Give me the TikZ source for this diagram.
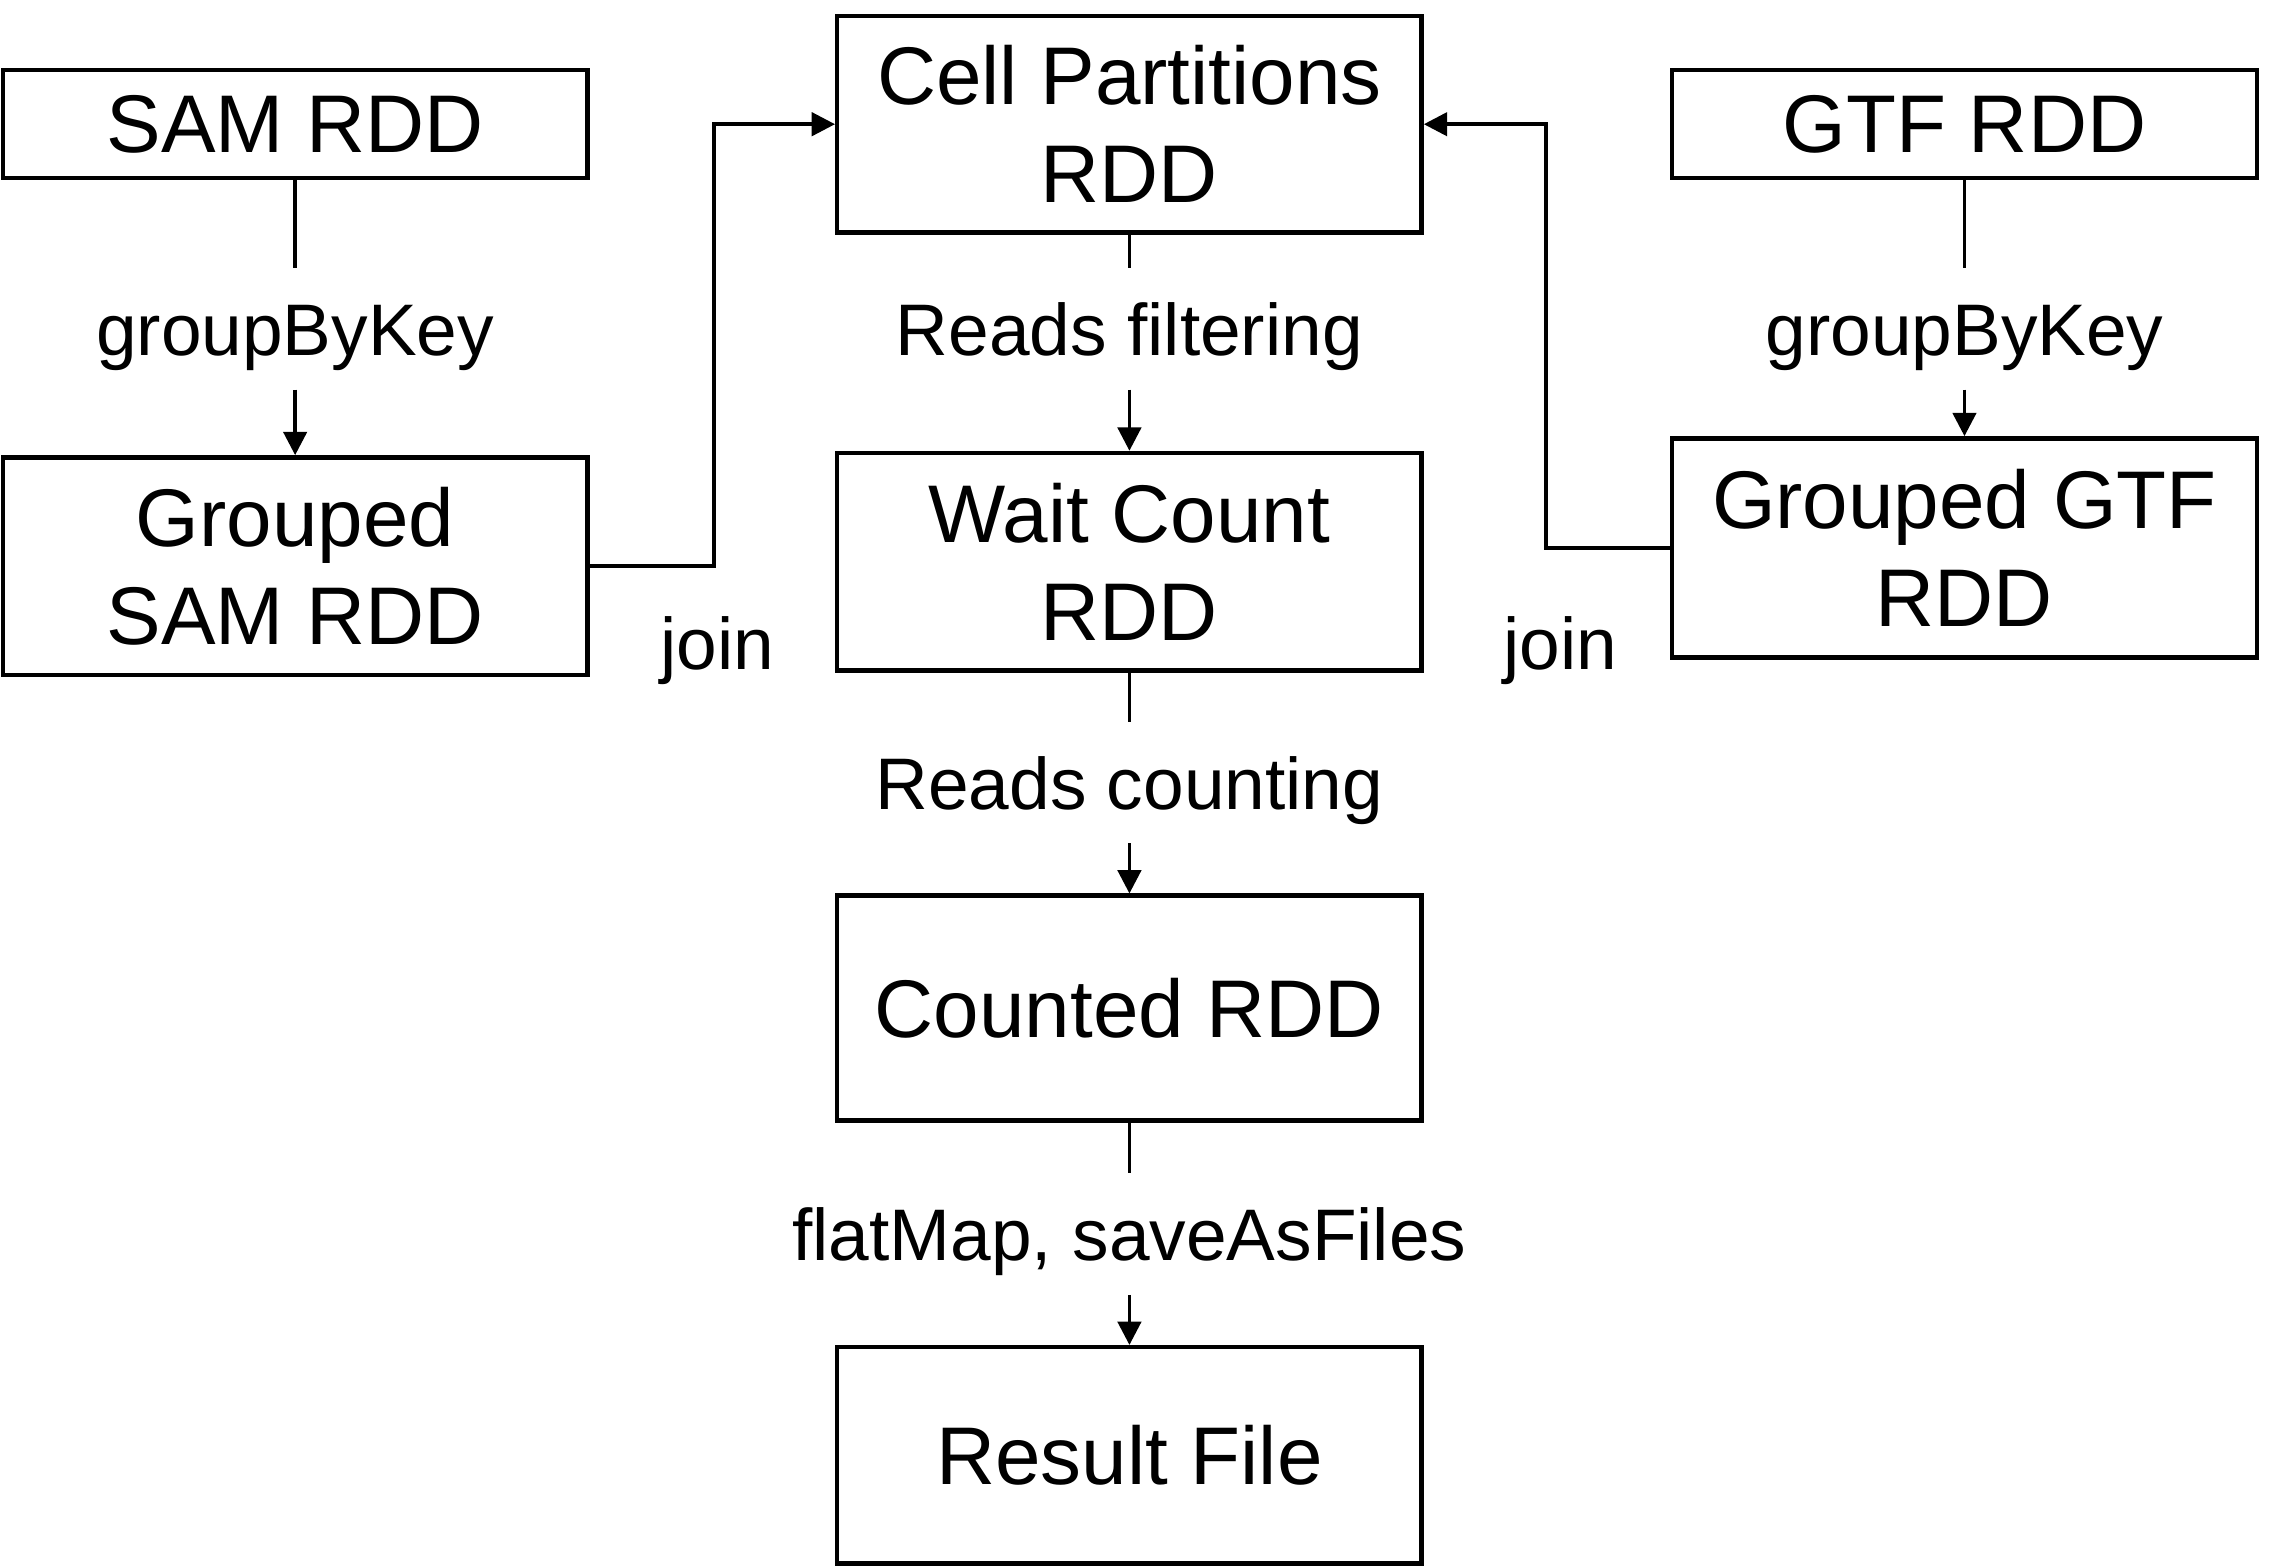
\documentclass[tikz,border=0pt]{standalone}
\usepackage{fontspec}
\setmainfont{Liberation Sans}
\usetikzlibrary{arrows.meta}

\begin{document}
\begin{tikzpicture}[x=1pt,y=-1pt,
		rdd/.style={draw,line width=3pt,minimum width=400pt,inner sep=0pt,
			align=center,font=\fontsize{56}{67}\selectfont},
		op/.style={inner xsep=0pt,inner ysep=18pt,text height=42pt,text depth=5pt,
			font=\fontsize{50}{60}\selectfont},
		link/.style={line width=2.5pt},
		flow/.style={link,-{Triangle[length=16pt,width=16pt]}}]
	\useasboundingbox (0,0) rectangle (1568,1072);
	\node[rdd,minimum height=74pt] (sam) at (202,85) {SAM RDD};
	\node[rdd,minimum height=149pt] (gsam) at (202,387.5) {Grouped\\SAM RDD};
	\node[rdd,minimum height=148pt] (cell) at (773,85) {Cell Partitions\\RDD};
	\node[rdd,minimum height=149pt] (wait) at (773,384.5) {Wait Count\\RDD};
	\node[rdd,minimum height=154pt] (counted) at (773,690) {Counted RDD};
	\node[rdd,minimum height=148pt] (result) at (773,996) {Result File};
	\node[rdd,minimum height=74pt] (gtf) at (1344.5,85) {GTF RDD};
	\node[rdd,minimum height=150pt] (ggtf) at (1344.5,375) {Grouped GTF\\RDD};

	\node[op] (samkey) at (202,225) {groupByKey};
	\node[op] (gtfkey) at (1344.5,225) {groupByKey};
	\node[op] (filter) at (773,225) {Reads filtering};
	\node[op] (count) at (773,535.5) {Reads counting};
	\node[op] (save) at (773,844.5) {flatMap, saveAsFiles};
	\node[op] (samjoin) at (491,440) {join};
	\node[op] (gtfjoin) at (1068,440) {join};

	\draw[link] (sam) -- (samkey);
	\draw[flow] (samkey) -- (gsam);
	\draw[link] (gtf) -- (gtfkey);
	\draw[flow] (gtfkey) -- (ggtf);
	\draw[link] (cell) -- (filter);
	\draw[flow] (filter) -- (wait);
	\draw[link] (wait) -- (count);
	\draw[flow] (count) -- (counted);
	\draw[link] (counted) -- (save);
	\draw[flow] (save) -- (result);
	\draw[flow] (gsam.east) -- ++(85,0) |- (cell.west);
	\draw[flow] (ggtf.west) -- ++(-85,0) |- (cell.east);
\end{tikzpicture}
\end{document}
